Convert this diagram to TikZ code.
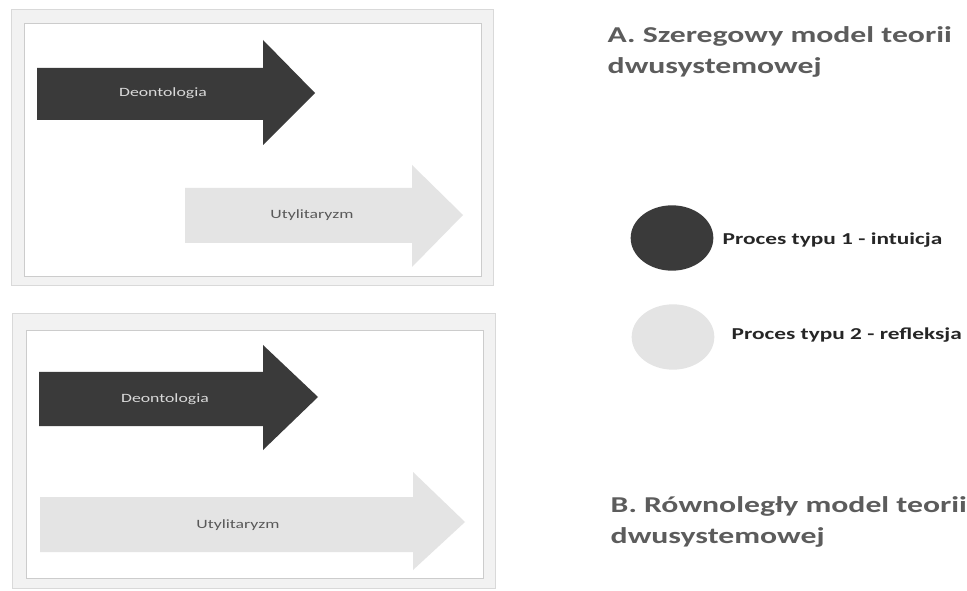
\documentclass[tikz,border=0pt]{standalone}
\usepackage{fontspec}
\setmainfont{Carlito}[FakeStretch=1.4]
\usetikzlibrary{shapes.geometric}

\definecolor{darkfill}{HTML}{3A3A3A}
\definecolor{lightfill}{HTML}{E4E4E4}
\definecolor{titlegray}{HTML}{5C5C5C}

\tikzstyle{frameout}=[draw=gray!30,fill=gray!10,line width=0.6pt]
\tikzstyle{framein}=[draw=gray!40,fill=white,line width=0.5pt]
\tikzstyle{darkarrow}=[fill=darkfill]
\tikzstyle{lightarrow}=[fill=lightfill]
\tikzstyle{arrowtext}=[font=\fontsize{9.5}{11}\selectfont]
\tikzstyle{title}=[anchor=west,align=left,text=titlegray,font=\fontsize{17}{23}\selectfont\bfseries]
\tikzstyle{legendtext}=[anchor=west,text=black!85,font=\fontsize{12.5}{14}\selectfont\bfseries]
\tikzstyle{blob}=[ellipse,minimum width=62pt,minimum height=49pt,inner sep=0pt]

\begin{document}
\begin{tikzpicture}[x=0.75pt,y=-0.75pt]
\useasboundingbox (0,0) rectangle (967,591);
% top frame (serial model)
\draw[frameout] (11,9) rectangle (493,285);
\draw[framein] (24,23) rectangle (481,276);
\fill[darkarrow] (37,68) -- (263,68) -- (263,40) -- (315,93) -- (263,145)
    -- (263,120) -- (37,120) -- cycle;
\node[arrowtext,text=gray!30] (deon_a) at (163,93) {Deontologia};
\fill[lightarrow] (185,188) -- (412,188) -- (412,165) -- (463,215) -- (412,267)
    -- (412,243) -- (185,243) -- cycle;
\node[arrowtext,text=black!65] (util_a) at (312,215) {Utylitaryzm};
% bottom frame (parallel model)
\draw[frameout] (12,313) rectangle (495,588);
\draw[framein] (26,330) rectangle (483,578);
\fill[darkarrow] (39,372) -- (263,372) -- (263,345) -- (318,397) -- (263,450)
    -- (263,426) -- (39,426) -- cycle;
\node[arrowtext,text=gray!30] (deon_b) at (165,399) {Deontologia};
\fill[lightarrow] (40,497) -- (413,497) -- (413,472) -- (465,522) -- (413,570)
    -- (413,552) -- (40,552) -- cycle;
\node[arrowtext,text=black!65] (util_b) at (238,525) {Utylitaryzm};
% titles
\node[title] (title_a) at (603,52) {A. Szeregowy model teorii\\dwusystemowej};
\node[title] (title_b) at (606,522) {B. Równoległy model teorii\\dwusystemowej};
% legend
\node[blob,fill=darkfill] (proc1) at (672,238) {};
\node[legendtext] (proc1_txt) at (718,240) {Proces typu 1 - intuicja};
\node[blob,fill=lightfill] (proc2) at (673,337) {};
\node[legendtext] (proc2_txt) at (727,335) {Proces typu 2 - refleksja};
\end{tikzpicture}
\end{document}
